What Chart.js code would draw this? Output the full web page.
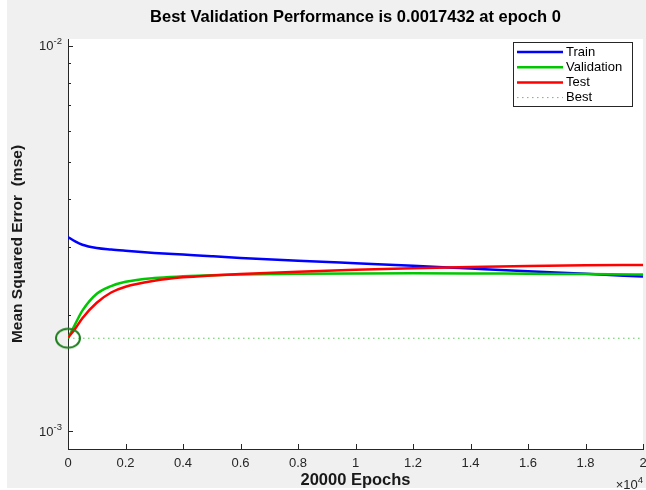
<!DOCTYPE html>
<html>
<head>
<meta charset="utf-8">
<script src="https://cdn.jsdelivr.net/npm/chart.js@4.4.1/dist/chart.umd.min.js"></script>
<style>
  html, body { margin: 0; padding: 0; background: #fff; }
  #wrap { width: 646px; height: 490px; }
</style>
</head>
<body>
<div id="wrap"><canvas id="perfChart" width="646" height="490"></canvas></div>
<script>
// ─── DATA ────────────────────────────────────────────────────────────────────
const epochs   = [0, 250, 500, 1000, 1500, 2000, 3000, 4000, 5000, 6000, 8000, 10000, 12000, 14000, 16000, 18000, 20000];
const trainMse = [0.00319, 0.003106, 0.003046, 0.002987, 0.002959, 0.002938, 0.002901, 0.002872, 0.002843, 0.002816, 0.00277, 0.002727, 0.002685, 0.002642, 0.0026, 0.00256, 0.002519];
const validMse = [0.0017432, 0.001896, 0.002055, 0.002273, 0.002379, 0.002441, 0.002497, 0.002522, 0.002539, 0.00255, 0.002561, 0.002567, 0.00257, 0.002567, 0.002561, 0.002556, 0.00255];
const testMse  = [0.00175, 0.001845, 0.001965, 0.002154, 0.00229, 0.00237, 0.002456, 0.002507, 0.002536, 0.002557, 0.002591, 0.002622, 0.002647, 0.002666, 0.002682, 0.002693, 0.002701];

const bestEpoch = 0;
const bestMse = 0.0017432;
const epochSpan = [0, 20000];

const xTicks = [0, 2000, 4000, 6000, 8000, 10000, 12000, 14000, 16000, 18000, 20000];
const xTickLabels = ['0', '0.2', '0.4', '0.6', '0.8', '1', '1.2', '1.4', '1.6', '1.8', '2'];
const yTicks = [0.001, 0.002, 0.003, 0.004, 0.005, 0.006, 0.007, 0.008, 0.009, 0.01];
const yMajor = [0.001, 0.01];
const yMajorExp = ['-3', '-2'];

const FONT = '"Liberation Sans", Arial, Helvetica, sans-serif';
const INK = '#262626';

function pts(xs, ys) { return xs.map((x, i) => ({ x, y: ys[i] })); }

// ellipse marker round the best point
function bestMarker() {
  const c = document.createElement('canvas');
  c.width = 28; c.height = 24;
  const g = c.getContext('2d');
  g.strokeStyle = '#1f7f1f';
  g.lineWidth = 2;
  g.beginPath();
  g.ellipse(14, 12, 12, 9.5, 0, 0, Math.PI * 2);
  g.stroke();
  return c;
}

// "10" with a raised exponent, right-aligned at xr
function powerText(ctx, base, exp, xr, yc) {
  ctx.font = '9.5px ' + FONT;
  const ew = ctx.measureText(exp).width;
  ctx.textAlign = 'left';
  ctx.fillText(exp, xr - ew, yc - 5);
  ctx.font = '13px ' + FONT;
  ctx.textAlign = 'right';
  ctx.fillText(base, xr - ew, yc);
}

// gray figure, white axes box
const figureBg = {
  id: 'figureBg',
  beforeDraw(chart) {
    const { ctx, chartArea: a, width, height } = chart;
    ctx.save();
    ctx.fillStyle = '#fff';
    ctx.fillRect(0, 0, width, height);
    ctx.fillStyle = '#f0f0f0';
    ctx.fillRect(7, 0, width - 7, height - 2);
    ctx.fillStyle = '#fff';
    ctx.fillRect(a.left, a.top, a.right - a.left, a.bottom - a.top);
    ctx.restore();
  }
};

// inward tick marks, log labels, exponent label and legend box
const matlabBits = {
  id: 'matlabBits',
  afterDraw(chart) {
    const { ctx, chartArea: a, scales: { x, y } } = chart;
    ctx.save();
    ctx.strokeStyle = INK;
    ctx.lineWidth = 1;
    ctx.beginPath();
    xTicks.forEach(v => {
      const px = Math.round(x.getPixelForValue(v)) + 0.5;
      ctx.moveTo(px, a.bottom); ctx.lineTo(px, a.bottom - 5);
    });
    yTicks.forEach(v => {
      const py = Math.round(y.getPixelForValue(v)) + 0.5;
      const len = yMajor.includes(v) ? 5 : 3;
      ctx.moveTo(a.left, py); ctx.lineTo(a.left + len, py);
    });
    ctx.stroke();

    ctx.fillStyle = INK;
    ctx.textBaseline = 'middle';
    yMajor.forEach((v, i) => powerText(ctx, '10', yMajorExp[i], a.left - 6, y.getPixelForValue(v) + 1));
    powerText(ctx, '×10', '4', a.right, 485);

    // legend
    const items = chart.data.datasets.filter(d => d.label);
    const bx = 513, by = 42, bw = 119, bh = 64;
    ctx.fillStyle = '#fff';
    ctx.fillRect(bx, by, bw, bh);
    ctx.strokeStyle = INK;
    ctx.strokeRect(bx + 0.5, by + 0.5, bw, bh);
    ctx.font = '13px ' + FONT;
    ctx.textAlign = 'left';
    items.forEach((d, i) => {
      const ly = by + 10 + i * 15.2;
      ctx.save();
      ctx.strokeStyle = d.borderColor;
      ctx.lineWidth = d.borderWidth;
      ctx.setLineDash(d.borderDash || []);
      ctx.beginPath();
      ctx.moveTo(bx + 4, ly); ctx.lineTo(bx + 50, ly);
      ctx.stroke();
      ctx.restore();
      ctx.fillStyle = '#000';
      ctx.fillText(d.label, bx + 53, ly);
    });
    ctx.restore();
  }
};

const lineStyle = { borderWidth: 2.5, pointRadius: 0, cubicInterpolationMode: 'monotone', fill: false };

new Chart(document.getElementById('perfChart'), {
  type: 'line',
  data: {
    datasets: [
      { label: 'Train', data: pts(epochs, trainMse), borderColor: '#0000ff', order: 4, ...lineStyle },
      { label: 'Validation', data: pts(epochs, validMse), borderColor: '#00c800', order: 3, ...lineStyle },
      { label: 'Test', data: pts(epochs, testMse), borderColor: '#ff0000', order: 2, ...lineStyle },
      { label: 'Best', data: pts(epochSpan, [bestMse, bestMse]), borderColor: 'rgba(0,170,0,0.65)', borderWidth: 1, borderDash: [1.5, 3.5], pointRadius: 0, order: 1 },
      { data: [{ x: bestEpoch, y: bestMse }], showLine: false, pointStyle: bestMarker(), pointRadius: 1, borderWidth: 0, clip: false, order: 0 }
    ]
  },
  options: {
    responsive: false,
    animation: false,
    devicePixelRatio: 1,
    layout: { padding: { left: 0, right: 3, top: 0, bottom: 0 }, autoPadding: false },
    plugins: {
      legend: { display: false },
      tooltip: { enabled: false },
      title: {
        display: true,
        fullSize: false,
        text: 'Best Validation Performance is 0.0017432 at epoch 0',
        color: '#000',
        font: { family: FONT, size: 16.5, weight: 'bold' },
        padding: { top: 8, bottom: 11.2 }
      }
    },
    scales: {
      x: {
        type: 'linear',
        min: epochSpan[0],
        max: epochSpan[1],
        grid: { display: false, drawTicks: false },
        border: { display: true, color: INK, width: 1 },
        afterBuildTicks: s => { s.ticks = xTicks.map(v => ({ value: v })); },
        afterFit: s => { s.height = 41; s.paddingRight = 0; },
        ticks: {
          autoSkip: false, maxRotation: 0, padding: 7, color: INK,
          font: { family: FONT, size: 13 },
          callback: v => xTickLabels[xTicks.indexOf(v)]
        },
        title: {
          display: true, text: '20000 Epochs', color: '#1a1a1a',
          font: { family: FONT, size: 16.5, weight: 'bold' },
          padding: { top: 0, bottom: 0 }
        }
      },
      y: {
        type: 'logarithmic',
        min: 0.0009,
        max: 0.0104,
        grid: { display: false, drawTicks: false },
        border: { display: true, color: INK, width: 1 },
        afterBuildTicks: s => { s.ticks = yTicks.map(v => ({ value: v })); },
        afterFit: s => { s.width = 68; },
        ticks: {
          autoSkip: false, padding: 6, color: INK,
          font: { family: FONT, size: 13 },
          callback: () => ''
        },
        title: {
          display: true, text: 'Mean Squared Error  (mse)', color: '#1a1a1a',
          font: { family: FONT, size: 15.5, weight: 'bold' },
          padding: { top: 8.5, bottom: 0 }
        }
      }
    }
  },
  plugins: [figureBg, matlabBits]
});
</script>
</body>
</html>
